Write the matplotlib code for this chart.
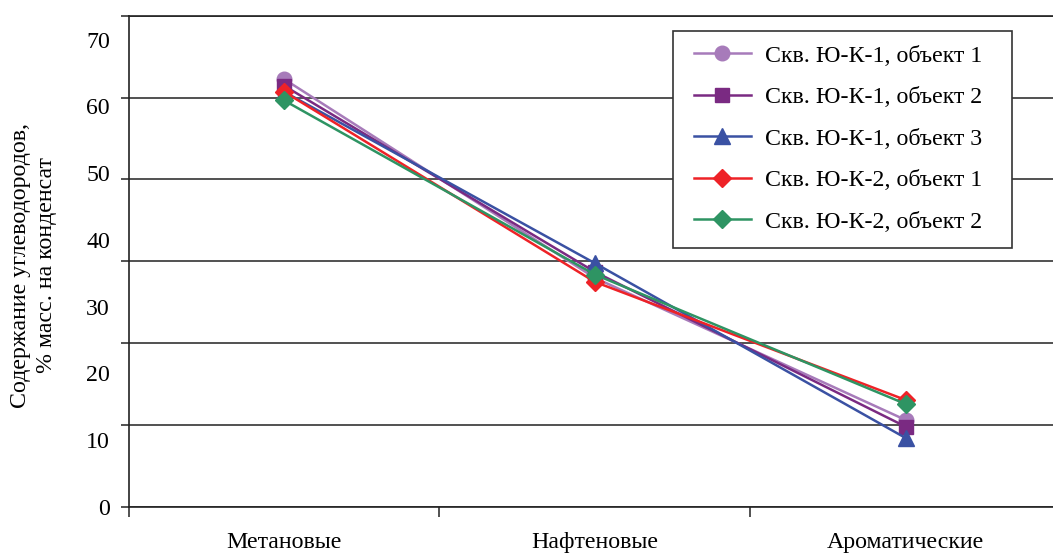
import numpy as np
import matplotlib
matplotlib.use("Agg")
from matplotlib import pyplot as plt
from matplotlib.patches import Rectangle

# Categories and series
categorias = ["Метановые", "Нафтеновые", "Ароматические"]
serie_names = ["Скв. Ю-К-1, объект 1", "Скв. Ю-К-1, объект 2", "Скв. Ю-К-1, объект 3",
               "Скв. Ю-К-2, объект 1", "Скв. Ю-К-2, объект 2"]
yk1_ob1 = [64.1, 34.3, 13.0]
yk1_ob2 = [63.1, 35.2, 12.0]
yk1_ob3 = [62.2, 36.5, 10.3]
yk2_ob1 = [62.2, 33.7, 16.0]
yk2_ob2 = [60.9, 34.8, 15.4]
y_ticklabels = [0, 10, 20, 30, 40, 50, 60, 70]

series = [yk1_ob1, yk1_ob2, yk1_ob3, yk2_ob1, yk2_ob2]
cores = ["#A77BBA", "#7A2A82", "#3A51A3", "#EE2227", "#2E9463"]
marcadores = ["o", "s", "^", "D", "D"]
tamanhos = [10.5, 10.5, 11.5, 9, 9]

plt.rcParams['font.family'] = ['Liberation Serif', 'DejaVu Serif']
plt.rcParams['font.size'] = 17.2

W, H = 1053, 553
fig = plt.figure(figsize=(W/100, H/100), dpi=100)
ax = fig.add_axes([128.7/W, 1 - 506.7/H, (1061 - 128.7)/W, (506.7 - 15.7)/H])

x = np.arange(len(categorias))
for vals, nome, c, m, ms in zip(series, serie_names, cores, marcadores, tamanhos):
    ax.plot(x, vals, color=c, marker=m, markersize=ms, linewidth=1.8,
            markeredgecolor=c, label=nome, zorder=3)

ymax = 73.6
ax.set_ylim(0, ymax)
ax.set_xlim(-0.5, 2.5)

# tick labels
ax.set_yticks(y_ticklabels)
ax.set_yticklabels([str(v) for v in y_ticklabels])
ax.set_yticks(np.linspace(0, ymax, 7), minor=True)
ax.yaxis.remove_overlapping_locs = False
ax.tick_params(axis="y", which="major", length=0, pad=13.5)
ax.tick_params(axis="y", which="minor", length=6, width=1.1, color="#222222")
ax.yaxis.grid(True, which="minor", color="#333333", linewidth=1.2)
ax.yaxis.grid(False, which="major")

ax.set_xticks(x)
ax.set_xticklabels(categorias)
ax.set_xticks([-0.5, 0.5, 1.5, 2.5], minor=True)
ax.tick_params(axis="x", which="major", length=0, pad=18)
ax.tick_params(axis="x", which="minor", length=7, width=1.1, color="#222222")

for s in ["left", "bottom", "top"]:
    ax.spines[s].set_color("#222222")
    ax.spines[s].set_linewidth(1.2)
ax.spines["right"].set_visible(False)

fig.text(33.5/W, 1 - 265/H, "Содержание углеводородов,\n% масс. на конденсат",
         rotation=90, ha="center", va="center", multialignment="center",
         linespacing=1.28)

# legend box (frame drawn separately)
caixa = Rectangle((672.7/W, 1 - 248.3/H), (1011.7 - 672.7)/W, (248.3 - 30.7)/H,
                  transform=fig.transFigure, facecolor="white", edgecolor="#333333",
                  linewidth=1.2, zorder=4)
fig.add_artist(caixa)

leg = fig.legend(*ax.get_legend_handles_labels(), loc="upper left",
                 bbox_to_anchor=(676/W, 1 - 27/H), borderaxespad=0,
                 handlelength=2.38, handletextpad=0.59, labelspacing=0.83,
                 borderpad=0.75, frameon=False)
leg.set_zorder(5)

fig.savefig("out.png", dpi=100)
